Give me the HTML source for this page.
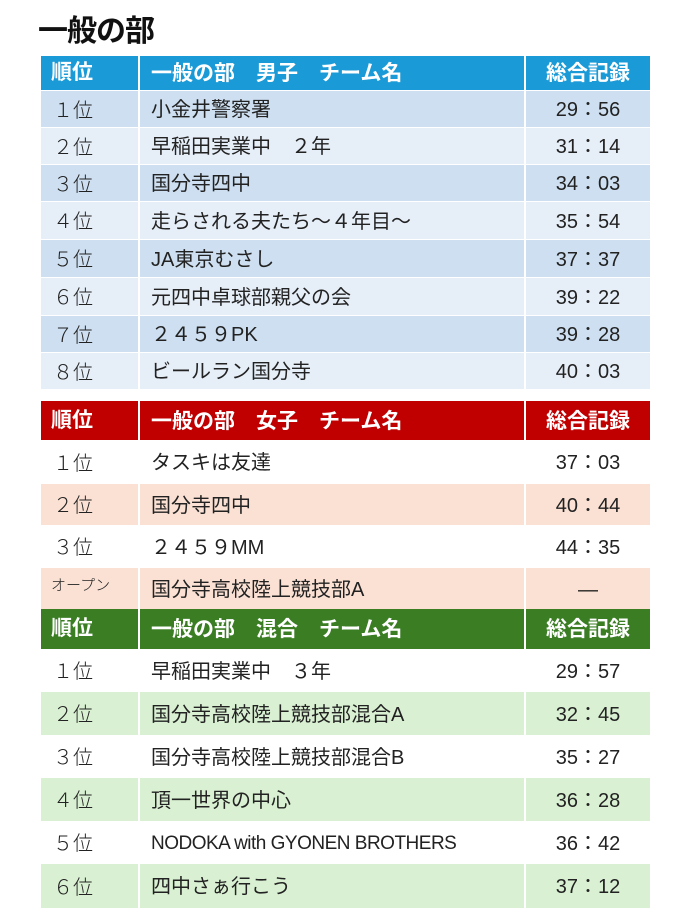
<!DOCTYPE html>
<html><head><meta charset="utf-8"><style>
body{margin:0;width:690px;height:920px;background:#fff;position:relative;overflow:hidden;font-family:"Liberation Sans","Noto Sans CJK JP",sans-serif;}
.t{position:absolute;left:38px;top:6px;font-size:30px;font-weight:bold;color:#111;letter-spacing:-1px}
.r{position:absolute;left:41px;width:609px;display:flex;font-size:20px;color:#222;align-items:center;line-height:26px}
.r div{height:100%;display:flex;align-items:center;box-sizing:border-box}
.c1{width:99px;padding-left:12px;border-right:2px solid #fff;font-family:"Noto Sans CJK JP",sans-serif;font-weight:300;padding-bottom:1px}
.c2{width:386px;padding-left:11px;border-right:2px solid #fff;padding-top:2px}
.c3{width:124px;justify-content:center;padding-top:2px}
.h{color:#fff;font-weight:bold;font-size:21px}
.h .c1{padding-left:10px;font-weight:bold;font-family:"Liberation Sans","Noto Sans CJK JP",sans-serif;padding-bottom:0}
.b{background:#1a9ad6}.bd{background:#cddff0}.bl{background:#e6eef8}
.red{background:#c00000}.pe{background:#fbe1d4}.w{background:#fff}
.g{background:#3a7d23}.gl{background:#d9f1d2}
</style></head><body>
<div class="t">一般の部</div>

<div class="r h b" style="top:56px;height:34px"><div class="c1">順位</div><div class="c2">一般の部　男子　チーム名</div><div class="c3">総合記録</div></div>
<div class="r bd" style="top:91px;height:36px"><div class="c1">１位</div><div class="c2">小金井警察署</div><div class="c3">29：56</div></div>
<div class="r bl" style="top:128px;height:36px"><div class="c1">２位</div><div class="c2">早稲田実業中　２年</div><div class="c3">31：14</div></div>
<div class="r bd" style="top:165px;height:36px"><div class="c1">３位</div><div class="c2">国分寺四中</div><div class="c3">34：03</div></div>
<div class="r bl" style="top:202px;height:37px"><div class="c1">４位</div><div class="c2">走らされる夫たち～４年目～</div><div class="c3">35：54</div></div>
<div class="r bd" style="top:240px;height:37px"><div class="c1">５位</div><div class="c2">JA東京むさし</div><div class="c3">37：37</div></div>
<div class="r bl" style="top:278px;height:37px"><div class="c1">６位</div><div class="c2">元四中卓球部親父の会</div><div class="c3">39：22</div></div>
<div class="r bd" style="top:316px;height:36px"><div class="c1">７位</div><div class="c2">２４５９PK</div><div class="c3">39：28</div></div>
<div class="r bl" style="top:353px;height:36px"><div class="c1">８位</div><div class="c2">ビールラン国分寺</div><div class="c3">40：03</div></div>

<div class="r h red" style="top:401px;height:39px"><div class="c1">順位</div><div class="c2">一般の部　女子　チーム名</div><div class="c3">総合記録</div></div>
<div class="r w" style="top:440px;height:44px"><div class="c1">１位</div><div class="c2">タスキは友達</div><div class="c3">37：03</div></div>
<div class="r pe" style="top:484px;height:41px"><div class="c1">２位</div><div class="c2">国分寺四中</div><div class="c3">40：44</div></div>
<div class="r w" style="top:525px;height:43px"><div class="c1">３位</div><div class="c2">２４５９MM</div><div class="c3">44：35</div></div>
<div class="r pe" style="top:568px;height:41px"><div class="c1" style="font-size:15px;padding-left:10px;align-items:flex-start;padding-top:4px">オープン</div><div class="c2">国分寺高校陸上競技部A</div><div class="c3">—</div></div>

<div class="r h g" style="top:609px;height:40px"><div class="c1">順位</div><div class="c2">一般の部　混合　チーム名</div><div class="c3">総合記録</div></div>
<div class="r w" style="top:649px;height:43px"><div class="c1">１位</div><div class="c2">早稲田実業中　３年</div><div class="c3">29：57</div></div>
<div class="r gl" style="top:692px;height:43px"><div class="c1">２位</div><div class="c2">国分寺高校陸上競技部混合A</div><div class="c3">32：45</div></div>
<div class="r w" style="top:735px;height:43px"><div class="c1">３位</div><div class="c2">国分寺高校陸上競技部混合B</div><div class="c3">35：27</div></div>
<div class="r gl" style="top:778px;height:43px"><div class="c1">４位</div><div class="c2">頂一世界の中心</div><div class="c3">36：28</div></div>
<div class="r w" style="top:821px;height:43px"><div class="c1">５位</div><div class="c2" style="font-size:19px;letter-spacing:-0.5px">NODOKA with GYONEN BROTHERS</div><div class="c3">36：42</div></div>
<div class="r gl" style="top:864px;height:44px"><div class="c1">６位</div><div class="c2">四中さぁ行こう</div><div class="c3">37：12</div></div>
</body></html>
